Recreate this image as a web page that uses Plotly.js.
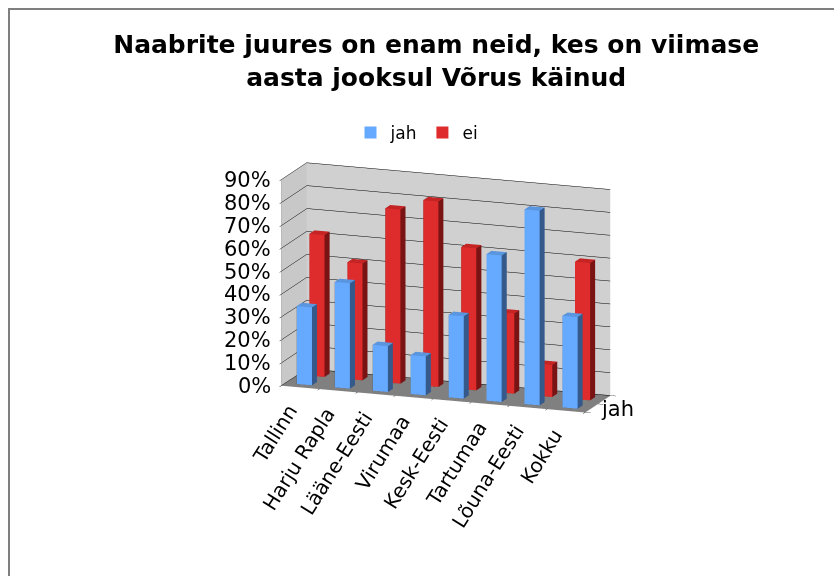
<!DOCTYPE html>
<html>
<head>
<meta charset="utf-8">
<script src="https://cdn.plot.ly/plotly-3.0.1.min.js"></script>
<style>
  html, body { margin: 0; padding: 0; background: #ffffff; overflow: hidden; }
  #chart { width: 834px; height: 576px; position: absolute; left: 0; top: 0; }
  #frame { position: absolute; left: 8px; top: 8px; width: 900px; height: 700px;
           border-left: 2px solid #7f7f7f; border-top: 2px solid #7f7f7f;
           pointer-events: none; z-index: 10; }
</style>
</head>
<body>
<div id="chart"></div>
<div id="frame"></div>
<script>
// ---- data ----
const categories = ['Tallinn', 'Harju Rapla', 'Lääne-Eesti', 'Virumaa', 'Kesk-Eesti', 'Tartumaa', 'Lõuna-Eesti', 'Kokku'];
const seriesNames = ['jah', 'ei'];
const jahValues = [34, 46, 20, 17, 36, 64, 85, 40];
const eiValues = [62, 51, 76, 81, 62, 35, 14, 60];
const zTickValues = [0, 10, 20, 30, 40, 50, 60, 70, 80, 90];
const zTickLabels = ['0%', '10%', '20%', '30%', '40%', '50%', '60%', '70%', '80%', '90%'];

// ---- styles ----
const palettes = [
  { front: '#66aaff', top: '#5a95e0', side: '#34598a' },
  { front: '#de2b2b', top: '#c42424', side: '#7a1414' }
];
const halfW = 0.2, halfD = 0.2;

function boxesTrace(values, row, pal, name) {
  const X = [], Y = [], Z = [], I = [], J = [], K = [], FC = [];
  values.forEach(function (v, c) {
    const x0 = c - halfW, x1 = c + halfW, y0 = row - halfD, y1 = row + halfD, z0 = 0, z1 = v;
    const b = X.length;
    const verts = [[x0,y0,z0],[x1,y0,z0],[x1,y1,z0],[x0,y1,z0],[x0,y0,z1],[x1,y0,z1],[x1,y1,z1],[x0,y1,z1]];
    verts.forEach(function (p) { X.push(p[0]); Y.push(p[1]); Z.push(p[2]); });
    const faces = [
      [[0,1,2],[0,2,3], pal.side],
      [[4,5,6],[4,6,7], pal.top],
      [[0,1,5],[0,5,4], pal.front],
      [[3,2,6],[3,6,7], pal.side],
      [[0,3,7],[0,7,4], pal.side],
      [[1,2,6],[1,6,5], pal.side]
    ];
    faces.forEach(function (f) {
      [f[0], f[1]].forEach(function (t) {
        I.push(b + t[0]); J.push(b + t[1]); K.push(b + t[2]); FC.push(f[2]);
      });
    });
  });
  return {
    type: 'mesh3d', name: name, x: X, y: Y, z: Z, i: I, j: J, k: K,
    facecolor: FC, flatshading: true, showscale: false, showlegend: false,
    hoverinfo: 'skip',
    lighting: { ambient: 1, diffuse: 0, specular: 0, roughness: 1, fresnel: 0 }
  };
}

const traces = [
  boxesTrace(jahValues, 0, palettes[0], seriesNames[0]),
  boxesTrace(eiValues, 1, palettes[1], seriesNames[1])
];
// legend entries (no data points, only the legend keys)
seriesNames.forEach(function (n, s) {
  traces.push({
    type: 'scatter', mode: 'markers', name: n, x: [null], y: [null],
    marker: { symbol: 'square', size: 12, color: palettes[s].front }, hoverinfo: 'skip'
  });
});

const catFont = { family: 'DejaVu Sans', size: 20, color: '#000' };
const tickFont = { family: 'DejaVu Sans', size: 21, color: '#000' };
const sceneAnnotations = categories.map(function (c, idx) {
  return {
    x: idx, y: -0.5, z: 0, text: c, showarrow: false, textangle: -58,
    xanchor: 'right', yanchor: 'top', xshift: 4, yshift: -10, font: catFont
  };
}).concat(zTickValues.map(function (v, idx) {
  return {
    x: -0.5, y: -0.5, z: v, text: zTickLabels[idx], showarrow: false,
    xanchor: 'right', yanchor: 'middle', xshift: -9, font: tickFont
  };
})).concat([{
  x: 7.5, y: 0, z: 0, text: seriesNames[0], showarrow: false,
  xanchor: 'left', yanchor: 'middle', xshift: 8, font: tickFont
}]);

const layout = {
  width: 834, height: 576,
  margin: { l: 0, r: 0, t: 0, b: 0 },
  paper_bgcolor: '#ffffff',
  plot_bgcolor: 'rgba(0,0,0,0)',
  font: { family: 'DejaVu Sans', color: '#000' },
  title: {
    text: 'Naabrite juures on enam neid, kes on viimase<br>aasta jooksul Võrus käinud',
    font: { family: 'DejaVu Sans', size: 25, weight: 'bold', color: '#000' },
    x: 0.523, xanchor: 'center', y: 1 - 53 / 576, yanchor: 'top'
  },
  showlegend: true,
  legend: {
    orientation: 'h', x: 0.5, xanchor: 'center', y: 1 - 133 / 576, yanchor: 'middle',
    bgcolor: 'rgba(0,0,0,0)',
    font: { family: 'DejaVu Sans', size: 17, color: '#000' }, itemwidth: 30
  },
  xaxis: { visible: false, domain: [0, 0.01] },
  yaxis: { visible: false, domain: [0, 0.01] },
  scene: {
    domain: { x: [0.2158, 0.8537], y: [0.2196, 0.7804] },
    aspectmode: 'manual',
    aspectratio: { x: 2.0, y: 0.455, z: 1.315 },
    camera: { eye: { x: 1.507, y: -4.14, z: 1.099 }, center: { x: 0, y: 0, z: 0 }, up: { x: 0, y: 0, z: 1 },
              projection: { type: 'orthographic' } },
    xaxis: {
      range: [-0.5, 7.5], tickvals: [-0.5, 0.5, 1.5, 2.5, 3.5, 4.5, 5.5, 6.5, 7.5], showticklabels: false,
      ticks: 'outside', ticklen: 6, tickcolor: '#000', showgrid: false, zeroline: false,
      showline: true, linecolor: '#808080', linewidth: 1,
      showbackground: true, backgroundcolor: '#c8c8c8', title: { text: '' }, showspikes: false
    },
    yaxis: {
      range: [-0.5, 1.5], tickvals: [-0.5, 0.5, 1.5], showticklabels: false,
      ticks: 'outside', ticklen: 6, tickcolor: '#000', showgrid: false, zeroline: false,
      showline: true, linecolor: '#808080', linewidth: 1,
      showbackground: true, backgroundcolor: '#d0d0d0', title: { text: '' }, showspikes: false
    },
    zaxis: {
      range: [0, 90], tickvals: zTickValues, showticklabels: false,
      ticks: 'outside', ticklen: 6, tickcolor: '#000',
      showgrid: true, gridcolor: '#000000', gridwidth: 1, zeroline: false,
      showline: true, linecolor: '#808080', linewidth: 1,
      showbackground: true, backgroundcolor: '#808080', title: { text: '' }, showspikes: false
    },
    annotations: sceneAnnotations
  }
};

Plotly.newPlot('chart', traces, layout, { displayModeBar: false });
</script>
</body>
</html>
